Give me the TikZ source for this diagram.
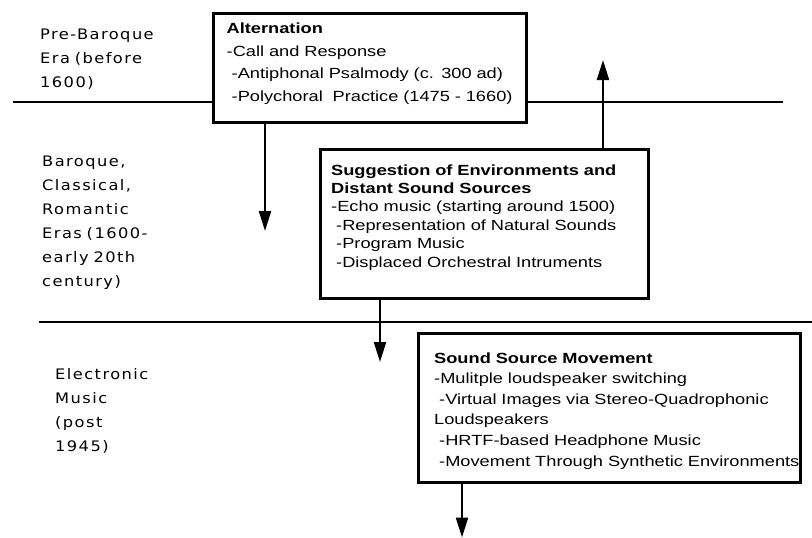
\documentclass[tikz,border=0pt]{standalone}
\usepackage{fontspec}
\usetikzlibrary{arrows.meta}
\newfontfamily\boxfont[FakeStretch=1.24]{Liberation Sans}
\newfontfamily\erafont[FakeStretch=1.12,LetterSpace=10]{DejaVu Sans}
\tikzset{
  rule/.style={line width=2.2pt},
  frame/.style={draw, line width=2.5pt, fill=white, inner sep=0pt, anchor=north west},
  arr/.style={line width=2.2pt, -{Triangle[length=20pt,width=12pt]}},
  boxtext/.style={text width=430pt, align=left, inner sep=0pt, anchor=base west},
  era/.style={font={\erafont\fontsize{14.5}{24}\selectfont}, text width=200pt, align=left, inner sep=0pt, anchor=base west},
}
\begin{document}
\begin{tikzpicture}[x=1pt,y=-1pt]
\useasboundingbox (0,0) rectangle (812,538);
% era labels
\node[era] (e1) at (40,39) {Pre-Baroque\\Era (before\\1600)};
\node[era] (e2) at (42,166.5) {Baroque,\\Classical,\\Romantic\\Eras (1600-\\early 20th\\century)};
\node[era] (e3) at (55,379) {Electronic\\Music\\(post\\1945)};
% boxes
\node[frame, minimum width=313pt, minimum height=109pt] (alt) at (212,12) {};
\node[frame, minimum width=328pt, minimum height=149pt] (sug) at (319,148) {};
\node[frame, minimum width=382pt, minimum height=149pt] (snd) at (417,332) {};
% box texts
\node[boxtext, font={\boxfont\fontsize{14.7}{22.5}\selectfont}] (altT) at (226.5,33.7)
  {\textbf{Alternation}\\-Call and Response\\\hspace*{5pt}-Antiphonal Psalmody (c. 300 ad)\\\hspace*{5pt}-Polychoral\ \ Practice (1475 - 1660)};
\node[boxtext, font={\boxfont\fontsize{14.7}{18.4}\selectfont}] (sugT) at (331,175)
  {\textbf{Suggestion of Environments and}\\\textbf{Distant Sound Sources}\\-Echo music (starting around 1500)\\\hspace*{5pt}-Representation of Natural Sounds\\\hspace*{5pt}-Program Music\\\hspace*{5pt}-Displaced Orchestral Intruments};
\node[boxtext, font={\boxfont\fontsize{14.7}{20.6}\selectfont}] (sndT) at (434,363)
  {\textbf{Sound Source Movement}\\-Mulitple loudspeaker switching\\\hspace*{5pt}-Virtual Images via Stereo-Quadrophonic\\Loudspeakers\\\hspace*{5pt}-HRTF-based Headphone Music\\\hspace*{5pt}-Movement Through Synthetic Environments};
% era dividing lines
\coordinate (t1) at (13,102);
\coordinate (t2) at (783,102);
\coordinate (m1) at (39,322);
\coordinate (m2) at (812,322);
\draw[rule] (t1) -- (t1 -| alt.west);
\draw[rule] (t2 -| alt.east) -- (t2);
\draw[rule] (m1) -- (m2);
% arrows
\coordinate (a1) at (265,231);
\coordinate (a2) at (603,60);
\coordinate (a3) at (380,362);
\coordinate (a4) at (462,537.5);
\draw[arr] (a1 |- alt.south) -- (a1);
\draw[arr] (a2 |- sug.north) -- (a2);
\draw[arr] (a3 |- sug.south) -- (a3);
\draw[arr] (a4 |- snd.south) -- (a4);
\end{tikzpicture}
\end{document}
